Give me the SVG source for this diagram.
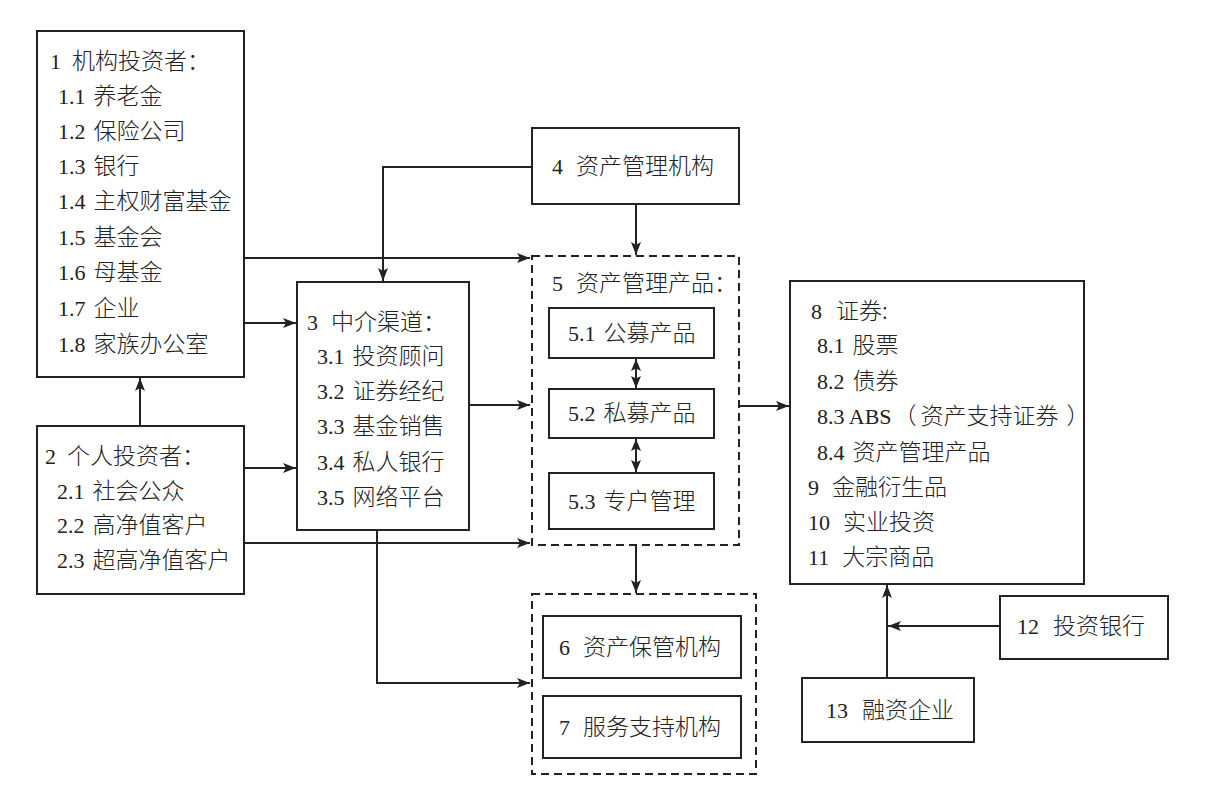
<svg xmlns="http://www.w3.org/2000/svg" width="1223" height="787" viewBox="0 0 1223 787">
<style>
text{font-family:"Liberation Serif","Noto Sans CJK SC",serif;font-size:22px;fill:#222;}
.c{font-family:"Noto Sans CJK SC",sans-serif;font-weight:300;font-size:23px;}
.box{fill:#fff;stroke:#222;stroke-width:2;}
.dash{fill:none;stroke:#222;stroke-width:2;stroke-dasharray:8 5;}
.ln{fill:none;stroke:#222;stroke-width:2;marker-end:url(#ah);}
.dbl{fill:none;stroke:#222;stroke-width:2;marker-start:url(#sh);marker-end:url(#sh);}
</style>
<defs>
<marker id="ah" markerUnits="userSpaceOnUse" markerWidth="14" markerHeight="12" refX="13" refY="5" orient="auto">
<path d="M0,0 L13,5 L0,10 L3,5 z" fill="#222"/>
</marker>
<marker id="sh" markerUnits="userSpaceOnUse" markerWidth="13" markerHeight="11" refX="12" refY="5" orient="auto-start-reverse">
<path d="M0,0 L12,5 L0,10 L2.5,5 z" fill="#222"/>
</marker>
</defs>
<rect width="1223" height="787" fill="#fff"/>

<g id="connectors">
<path class="ln" d="M140,426 V378"/>
<path class="ln" d="M245,258 H530"/>
<path class="ln" d="M245,323 H296"/>
<path class="ln" d="M244,468 H296"/>
<path class="ln" d="M244,543 H530"/>
<path class="ln" d="M470,405 H530"/>
<path class="ln" d="M531,167 H383 V281"/>
<path class="ln" d="M636,204 V255"/>
<path class="ln" d="M377,530 V683 H530"/>
<path class="ln" d="M636,545 V593"/>
<path class="ln" d="M739,406 H789"/>
<path class="ln" d="M887,678 V585"/>
<path class="ln" d="M1000,626 H888"/>
<path class="dbl" d="M636,359 V388"/>
<path class="dbl" d="M636,439 V472"/>
</g>

<g id="node1">
<rect class="box" x="37" y="31" width="207" height="346"/>
<text x="50" y="69">1<tspan class="c" dx="11">机构投资者：</tspan></text>
<text x="58" y="104">1.1<tspan class="c" dx="8">养老金</tspan></text>
<text x="58" y="139">1.2<tspan class="c" dx="8">保险公司</tspan></text>
<text x="58" y="174">1.3<tspan class="c" dx="8">银行</tspan></text>
<text x="58" y="209">1.4<tspan class="c" dx="8">主权财富基金</tspan></text>
<text x="58" y="245">1.5<tspan class="c" dx="8">基金会</tspan></text>
<text x="58" y="280">1.6<tspan class="c" dx="8">母基金</tspan></text>
<text x="58" y="316">1.7<tspan class="c" dx="8">企业</tspan></text>
<text x="58" y="352">1.8<tspan class="c" dx="8">家族办公室</tspan></text>
</g>

<g id="node2">
<rect class="box" x="37" y="426" width="207" height="168"/>
<text x="45" y="464">2<tspan class="c" dx="11">个人投资者：</tspan></text>
<text x="57" y="499">2.1<tspan class="c" dx="8">社会公众</tspan></text>
<text x="57" y="533">2.2<tspan class="c" dx="8">高净值客户</tspan></text>
<text x="57" y="568">2.3<tspan class="c" dx="8">超高净值客户</tspan></text>
</g>

<g id="node3">
<rect class="box" x="297" y="282" width="172" height="248"/>
<text x="307" y="330">3<tspan class="c" dx="13">中介渠道：</tspan></text>
<text x="317" y="364">3.1<tspan class="c" dx="8">投资顾问</tspan></text>
<text x="317" y="399">3.2<tspan class="c" dx="8">证券经纪</tspan></text>
<text x="317" y="434">3.3<tspan class="c" dx="8">基金销售</tspan></text>
<text x="317" y="470">3.4<tspan class="c" dx="8">私人银行</tspan></text>
<text x="317" y="505">3.5<tspan class="c" dx="8">网络平台</tspan></text>
</g>

<g id="node4">
<rect class="box" x="532" y="128" width="207" height="76"/>
<text x="552" y="174">4<tspan class="c" dx="13">资产管理机构</tspan></text>
</g>

<g id="node5">
<rect class="dash" x="532" y="256" width="207" height="289"/>
<text x="552" y="291">5<tspan class="c" dx="13">资产管理产品：</tspan></text>
</g>
<g id="node5-1">
<rect class="box" x="549" y="308" width="165" height="50"/>
<text x="568" y="341">5.1<tspan class="c" dx="8">公募产品</tspan></text>
</g>
<g id="node5-2">
<rect class="box" x="549" y="389" width="165" height="49"/>
<text x="568" y="421">5.2<tspan class="c" dx="8">私募产品</tspan></text>
</g>
<g id="node5-3">
<rect class="box" x="549" y="473" width="165" height="56"/>
<text x="568" y="509">5.3<tspan class="c" dx="8">专户管理</tspan></text>
</g>

<g id="node67">
<rect class="dash" x="532" y="594" width="224" height="180"/>
</g>
<g id="node6">
<rect class="box" x="543" y="616" width="198" height="62"/>
<text x="559" y="655">6<tspan class="c" dx="13">资产保管机构</tspan></text>
</g>
<g id="node7">
<rect class="box" x="543" y="696" width="198" height="62"/>
<text x="559" y="735">7<tspan class="c" dx="13">服务支持机构</tspan></text>
</g>

<g id="node8">
<rect class="box" x="790" y="281" width="294" height="303"/>
<text x="811" y="319">8<tspan class="c" dx="14">证券:</tspan></text>
<text x="817" y="353">8.1<tspan class="c" dx="8">股票</tspan></text>
<text x="817" y="389">8.2<tspan class="c" dx="8">债券</tspan></text>
<text x="817" y="424">8.3 ABS<tspan class="c" dx="2">（</tspan><tspan class="c" dx="4">资产支持证券</tspan><tspan class="c" dx="8">）</tspan></text>
<text x="817" y="460">8.4<tspan class="c" dx="8">资产管理产品</tspan></text>
<text x="808" y="495">9<tspan class="c" dx="13">金融衍生品</tspan></text>
<text x="808" y="530">10<tspan class="c" dx="13">实业投资</tspan></text>
<text x="808" y="565">11<tspan class="c" dx="13">大宗商品</tspan></text>
</g>

<g id="node12">
<rect class="box" x="1000" y="596" width="168" height="63"/>
<text x="1017" y="634">12<tspan class="c" dx="14">投资银行</tspan></text>
</g>

<g id="node13">
<rect class="box" x="802" y="678" width="172" height="64"/>
<text x="826" y="718">13<tspan class="c" dx="14">融资企业</tspan></text>
</g>
</svg>
